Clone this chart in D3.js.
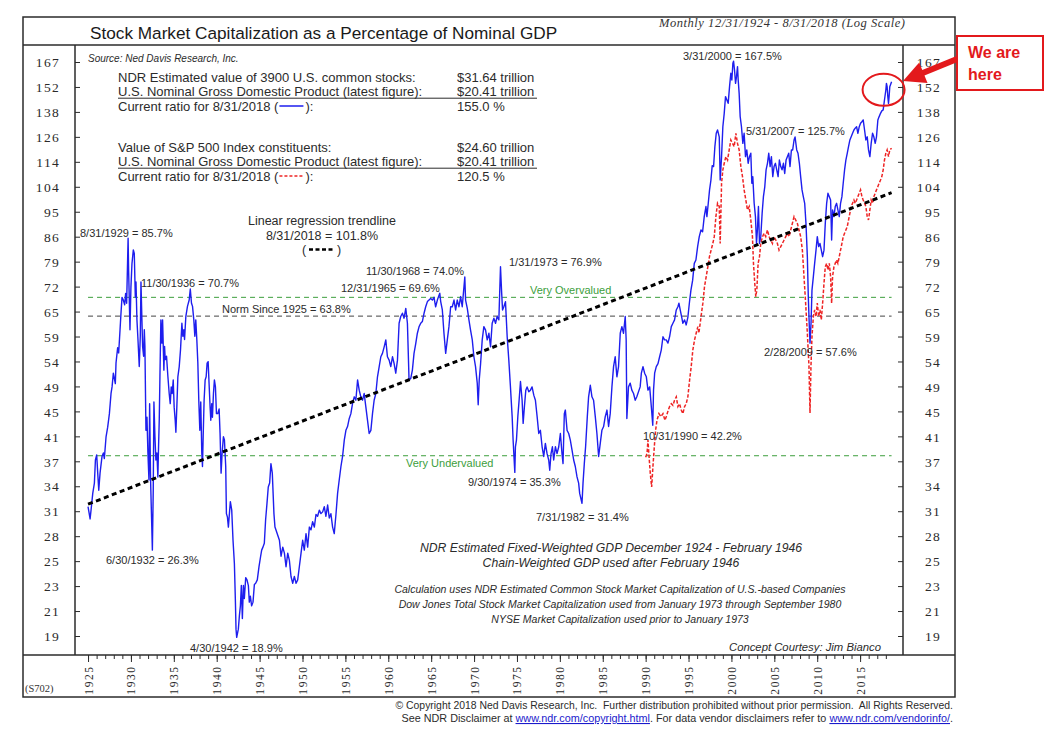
<!DOCTYPE html>
<html><head><meta charset="utf-8">
<script src="https://cdn.jsdelivr.net/npm/d3@7"></script>
<style>body{margin:0;background:#fff}svg{display:block}</style>
</head><body>
<svg id="c" width="1049" height="733"></svg>
<script>
// ---------------- DATA ----------------
const yTickLabels = [19,21,23,25,28,31,34,37,41,45,49,54,59,65,72,79,86,95,104,114,126,138,152,167];
const majorYears = [1925,1930,1935,1940,1945,1950,1955,1960,1965,1970,1975,1980,1985,1990,1995,2000,2005,2010,2015];
const minorYears = d3.range(1925, 2019);
const refLevels = [68.5, 63.8, 37.6]; // very overvalued, norm since 1925, very undervalued
const trendEnds = [[1925.0, 31.3], [2018.67, 101.8]];

const blue1925_1946 = [[1925.0,31.0],[1925.24,29.6],[1925.35,30.6],[1925.55,32.6],[1925.74,33.9],[1925.86,37.0],[1926.01,37.7],[1926.13,35.2],[1926.25,33.0],[1926.4,35.2],[1926.63,37.5],[1926.79,38.0],[1926.9,37.2],[1927.1,40.4],[1927.29,41.9],[1927.49,44.1],[1927.68,47.6],[1927.8,48.8],[1927.95,51.4],[1928.18,49.4],[1928.26,53.4],[1928.45,56.6],[1928.57,55.5],[1928.73,60.6],[1928.84,64.5],[1928.96,68.5],[1929.11,67.8],[1929.27,66.6],[1929.38,69.5],[1929.5,67.0],[1929.67,85.7],[1929.73,75.9],[1929.89,60.6],[1930.0,71.2],[1930.12,77.8],[1930.28,82.0],[1930.39,80.9],[1930.51,68.6],[1930.59,72.6],[1930.7,62.9],[1930.82,58.4],[1930.97,52.7],[1931.09,59.1],[1931.17,72.6],[1931.28,62.9],[1931.36,56.9],[1931.48,54.8],[1931.56,60.6],[1931.63,56.9],[1931.75,41.4],[1931.87,43.5],[1931.98,38.0],[1932.1,34.3],[1932.18,45.8],[1932.29,34.3],[1932.41,29.5],[1932.5,26.3],[1932.6,33.0],[1932.68,46.1],[1932.8,40.4],[1932.91,37.0],[1933.03,38.0],[1933.14,34.7],[1933.22,38.9],[1933.3,43.0],[1933.38,50.7],[1933.49,62.9],[1933.61,57.6],[1933.69,62.9],[1933.77,56.9],[1933.84,52.0],[1933.92,56.9],[1934.0,54.1],[1934.15,54.8],[1934.31,50.7],[1934.46,47.6],[1934.58,45.8],[1934.7,48.8],[1934.81,47.6],[1934.93,50.1],[1935.04,45.2],[1935.16,43.0],[1935.24,41.1],[1935.35,45.2],[1935.47,50.7],[1935.63,52.7],[1935.78,56.2],[1935.94,62.1],[1936.05,59.1],[1936.17,60.6],[1936.25,58.4],[1936.4,63.7],[1936.59,66.2],[1936.79,67.8],[1936.92,70.7],[1937.06,67.0],[1937.18,66.2],[1937.33,62.9],[1937.45,59.1],[1937.56,62.9],[1937.68,58.4],[1937.8,53.4],[1937.91,46.4],[1938.03,41.4],[1938.14,46.1],[1938.26,38.0],[1938.34,36.1],[1938.42,40.4],[1938.53,46.4],[1938.65,50.1],[1938.77,50.7],[1938.88,53.4],[1939.0,53.7],[1939.11,49.4],[1939.23,45.2],[1939.31,43.0],[1939.42,45.8],[1939.5,43.5],[1939.62,47.6],[1939.73,50.1],[1939.85,48.8],[1939.97,44.1],[1940.12,44.1],[1940.28,44.9],[1940.39,40.9],[1940.51,35.2],[1940.63,38.0],[1940.78,40.4],[1940.9,39.9],[1941.05,36.1],[1941.13,30.2],[1941.25,29.8],[1941.36,28.7],[1941.48,30.2],[1941.59,31.6],[1941.75,30.6],[1941.9,27.3],[1942.06,25.0],[1942.18,21.6],[1942.25,19.5],[1942.33,18.9],[1942.52,19.5],[1942.64,20.5],[1942.76,21.3],[1942.87,23.0],[1942.99,20.3],[1943.11,23.0],[1943.22,21.9],[1943.38,23.7],[1943.53,23.5],[1943.69,23.0],[1943.8,21.6],[1943.92,22.1],[1944.07,21.3],[1944.23,21.6],[1944.39,23.1],[1944.54,23.2],[1944.73,23.5],[1944.93,24.7],[1945.12,25.7],[1945.24,26.3],[1945.39,26.6],[1945.55,27.0],[1945.7,29.5],[1945.86,31.4],[1946.01,33.4],[1946.17,33.9],[1946.32,36.5],[1946.48,35.2],[1946.67,30.2],[1946.79,28.7]];

const blue1947_1989 = [[1947.31,27.3],[1947.5,25.7],[1947.7,26.6],[1947.89,26.0],[1948.08,24.7],[1948.28,26.0],[1948.47,25.3],[1948.66,23.8],[1948.86,23.2],[1949.05,23.8],[1949.25,23.2],[1949.44,23.5],[1949.63,24.7],[1949.83,26.0],[1950.02,27.3],[1950.21,26.3],[1950.41,28.0],[1950.6,26.6],[1950.8,28.7],[1950.99,28.4],[1951.18,29.3],[1951.38,28.7],[1951.57,30.1],[1951.76,29.9],[1951.96,30.6],[1952.15,30.2],[1952.35,30.4],[1952.54,31.0],[1952.73,29.9],[1952.93,31.2],[1953.12,29.7],[1953.31,30.2],[1953.51,28.7],[1953.7,28.0],[1953.9,30.1],[1954.09,32.6],[1954.28,34.3],[1954.48,36.1],[1954.67,37.5],[1954.87,39.9],[1955.06,41.4],[1955.25,42.0],[1955.45,43.3],[1955.64,44.1],[1955.83,45.8],[1956.03,47.0],[1956.22,46.4],[1956.42,50.1],[1956.61,48.2],[1956.8,47.0],[1957.0,46.4],[1957.19,47.6],[1957.38,45.3],[1957.58,43.0],[1957.77,40.9],[1957.97,41.4],[1958.16,44.1],[1958.35,46.4],[1958.55,47.6],[1958.74,50.7],[1958.94,52.7],[1959.13,54.7],[1959.32,55.4],[1959.52,56.8],[1959.71,58.3],[1959.9,54.7],[1960.1,54.0],[1960.29,52.7],[1960.49,54.7],[1960.68,53.3],[1960.87,51.4],[1961.07,54.0],[1961.26,62.1],[1961.45,63.7],[1961.65,64.5],[1961.84,63.3],[1962.04,65.7],[1962.23,62.1],[1962.42,50.1],[1962.62,50.4],[1962.81,52.0],[1963.0,55.4],[1963.2,57.5],[1963.39,59.8],[1963.59,61.3],[1963.78,62.1],[1963.97,62.5],[1964.17,64.5],[1964.36,66.1],[1964.56,67.4],[1964.75,67.8],[1964.94,68.2],[1965.14,67.8],[1965.33,68.5],[1965.52,66.1],[1965.72,67.8],[1966.0,69.6],[1966.11,67.4],[1966.3,65.3],[1966.49,59.8],[1966.69,55.4],[1966.88,58.3],[1967.07,61.3],[1967.27,66.1],[1967.46,66.1],[1967.66,67.8],[1967.85,65.3],[1968.04,67.8],[1968.24,66.1],[1968.43,68.7],[1968.62,66.1],[1968.92,74.0],[1969.01,67.8],[1969.21,65.7],[1969.4,62.9],[1969.59,60.5],[1969.79,58.3],[1969.98,54.7],[1970.17,52.7],[1970.37,49.5],[1970.48,45.6],[1970.6,50.1],[1970.76,53.3],[1970.95,58.3],[1971.14,61.3],[1971.34,60.5],[1971.53,58.3],[1971.73,59.8],[1971.92,56.8],[1972.11,62.1],[1972.31,63.3],[1972.5,62.1],[1972.69,63.7],[1972.89,62.9],[1973.08,76.9],[1973.2,70.4],[1973.32,65.3],[1973.47,66.1],[1973.66,67.4],[1973.86,59.0],[1974.05,54.0],[1974.24,48.8],[1974.44,43.6],[1974.55,39.9],[1974.75,35.3],[1974.82,38.9],[1974.94,39.9],[1975.1,43.6],[1975.25,46.4],[1975.41,49.8],[1975.6,46.4],[1975.72,42.5],[1975.87,45.3],[1976.03,48.2],[1976.18,48.8],[1976.38,47.9],[1976.57,48.2],[1976.76,48.8],[1976.96,47.3],[1977.15,46.4],[1977.35,43.6],[1977.54,40.9],[1977.73,41.4],[1977.93,38.9],[1978.12,37.5],[1978.31,39.4],[1978.51,37.9],[1978.7,37.0],[1978.82,35.6],[1978.97,37.9],[1979.13,38.9],[1979.28,37.0],[1979.48,38.9],[1979.67,37.9],[1979.87,38.9],[1980.06,40.9],[1980.25,37.9],[1980.37,36.5],[1980.52,44.1],[1980.64,44.7],[1980.84,41.4],[1981.03,40.9],[1981.22,39.9],[1981.42,38.4],[1981.61,37.0],[1981.8,36.1],[1982.0,34.7],[1982.19,33.9],[1982.31,32.6],[1982.58,31.4],[1982.7,33.9],[1982.85,36.5],[1983.0,38.9],[1983.2,43.6],[1983.35,47.0],[1983.55,49.1],[1983.74,47.0],[1983.93,46.4],[1984.13,43.6],[1984.32,40.9],[1984.52,37.5],[1984.71,39.4],[1984.9,41.4],[1985.1,42.0],[1985.29,43.6],[1985.49,44.7],[1985.68,42.0],[1985.87,44.1],[1986.07,48.8],[1986.26,52.7],[1986.45,54.7],[1986.65,50.7],[1986.84,52.7],[1987.04,59.8],[1987.23,61.3],[1987.42,59.8],[1987.62,63.7],[1987.73,58.3],[1987.81,43.3],[1988.0,48.8],[1988.2,49.5],[1988.39,48.2],[1988.59,47.6],[1988.78,46.4],[1988.97,47.0],[1989.36,48.8]];

const blue1989_1995 = [[1989.5,51.4],[1989.69,52.7],[1989.88,51.4],[1990.08,50.7],[1990.27,48.2],[1990.47,48.8],[1990.66,45.3],[1990.83,42.2],[1990.92,48.2],[1991.05,51.4],[1991.24,52.7],[1991.44,53.3],[1991.63,54.7],[1991.82,56.1],[1992.02,59.0],[1992.21,58.3],[1992.4,58.3],[1992.6,57.6],[1992.79,59.0],[1992.99,61.3],[1993.18,62.1],[1993.37,62.9],[1993.57,65.3],[1993.76,66.1],[1993.88,67.0],[1994.03,65.3],[1994.19,63.7],[1994.34,62.1],[1994.54,62.9],[1994.73,61.7],[1994.92,63.5],[1995.12,67.5]];

const blue1995_2018 = [[1995.28,70.4],[1995.48,73.1],[1995.67,77.9],[1995.86,78.9],[1996.06,83.0],[1996.25,86.2],[1996.45,88.4],[1996.64,87.8],[1996.83,93.0],[1997.03,96.6],[1997.14,93.0],[1997.3,97.8],[1997.45,102.9],[1997.61,106.8],[1997.76,112.8],[1997.92,112.4],[1998.07,121.2],[1998.23,127.5],[1998.38,129.1],[1998.58,125.8],[1998.69,106.8],[1998.85,116.7],[1999.0,130.7],[1999.16,137.5],[1999.31,146.5],[1999.47,144.6],[1999.62,142.8],[1999.78,152.1],[1999.93,160.0],[2000.05,156.0],[2000.17,166.2],[2000.25,167.5],[2000.36,162.0],[2000.48,154.0],[2000.59,158.0],[2000.71,164.1],[2000.79,156.0],[2000.9,148.3],[2001.02,135.8],[2001.17,130.7],[2001.33,122.7],[2001.48,127.5],[2001.64,116.7],[2001.79,119.7],[2001.95,113.8],[2002.1,116.7],[2002.26,118.2],[2002.38,105.5],[2002.49,108.2],[2002.65,97.8],[2002.8,93.0],[2002.92,84.0],[2003.03,88.4],[2003.15,96.6],[2003.27,84.0],[2003.42,86.2],[2003.58,94.2],[2003.73,100.3],[2003.89,104.2],[2004.04,111.0],[2004.2,113.8],[2004.35,118.2],[2004.51,112.4],[2004.66,116.7],[2004.82,108.2],[2004.97,112.4],[2005.13,113.8],[2005.28,111.0],[2005.44,108.2],[2005.59,115.2],[2005.75,112.4],[2005.9,111.0],[2006.06,113.8],[2006.21,109.5],[2006.37,115.2],[2006.52,116.7],[2006.68,118.2],[2006.83,112.4],[2006.99,119.7],[2007.14,119.7],[2007.3,124.3],[2007.42,125.7],[2007.61,119.7],[2007.76,118.2],[2007.92,113.8],[2008.07,108.2],[2008.23,102.9],[2008.38,100.3],[2008.54,97.8],[2008.69,90.6],[2008.85,79.9],[2008.96,68.7],[2009.08,61.3],[2009.16,57.6],[2009.28,62.1],[2009.39,70.4],[2009.55,74.1],[2009.7,77.9],[2009.86,81.9],[2010.01,86.2],[2010.17,83.0],[2010.32,84.0],[2010.48,81.9],[2010.63,79.9],[2010.79,81.9],[2010.94,90.6],[2011.1,97.8],[2011.25,101.6],[2011.41,100.3],[2011.56,99.0],[2011.68,85.1],[2011.79,95.4],[2011.95,93.0],[2012.1,96.6],[2012.26,97.8],[2012.41,95.4],[2012.57,93.0],[2012.72,97.8],[2012.88,100.3],[2013.03,105.5],[2013.19,111.0],[2013.34,115.2],[2013.5,118.2],[2013.65,121.2],[2013.81,124.3],[2013.96,125.8],[2014.12,127.5],[2014.28,129.1],[2014.43,130.0],[2014.59,130.7],[2014.74,127.5],[2014.9,130.7],[2015.05,132.4],[2015.21,133.2],[2015.36,134.1],[2015.52,129.1],[2015.67,124.3],[2015.83,125.8],[2015.98,119.7],[2016.14,116.7],[2016.29,122.7],[2016.45,127.5],[2016.6,125.8],[2016.76,122.7],[2016.91,125.8],[2017.07,134.1],[2017.22,135.8],[2017.38,137.5],[2017.53,138.8],[2017.69,139.3],[2017.84,144.6],[2018.0,150.2],[2018.07,154.0],[2018.15,152.1],[2018.23,146.5],[2018.31,142.8],[2018.38,146.5],[2018.46,152.1],[2018.67,155.0]];

const redSP500 = [[1990.0,37.4],[1990.16,37.9],[1990.27,39.9],[1990.39,37.6],[1990.54,35.2],[1990.7,33.4],[1990.85,36.1],[1991.01,38.9],[1991.16,41.4],[1991.32,43.0],[1991.55,44.1],[1991.78,43.6],[1992.02,44.1],[1992.25,43.0],[1992.4,43.6],[1992.64,44.7],[1992.79,45.3],[1992.99,45.8],[1993.18,45.5],[1993.37,46.4],[1993.57,47.0],[1993.76,45.3],[1993.95,45.8],[1994.15,44.7],[1994.34,44.1],[1994.54,45.3],[1994.73,45.8],[1994.92,47.0],[1995.12,50.0],[1995.31,52.7],[1995.5,56.1],[1995.7,58.3],[1995.89,59.8],[1996.09,61.3],[1996.2,59.8],[1996.36,62.1],[1996.51,64.5],[1996.67,67.0],[1996.86,71.3],[1997.06,74.1],[1997.25,76.9],[1997.44,79.9],[1997.64,82.0],[1997.83,84.0],[1998.0,86.2],[1998.19,93.0],[1998.38,97.8],[1998.58,96.6],[1998.69,84.0],[1998.85,105.5],[1999.0,111.0],[1999.16,113.8],[1999.35,116.7],[1999.55,115.2],[1999.74,119.7],[1999.93,124.3],[2000.13,122.7],[2000.32,121.2],[2000.52,127.5],[2000.71,122.7],[2000.9,119.7],[2001.1,112.4],[2001.29,108.2],[2001.48,102.9],[2001.68,99.0],[2001.87,95.4],[2002.07,96.6],[2002.26,91.8],[2002.45,86.2],[2002.57,77.9],[2002.72,72.2],[2002.84,68.7],[2002.96,70.4],[2003.11,77.9],[2003.27,79.9],[2003.42,84.0],[2003.62,86.2],[2003.81,87.3],[2004.0,86.2],[2004.2,88.4],[2004.39,86.2],[2004.59,85.1],[2004.78,84.0],[2004.97,86.2],[2005.17,85.1],[2005.36,84.0],[2005.55,81.9],[2005.75,83.0],[2005.94,84.0],[2006.14,85.1],[2006.33,86.2],[2006.52,87.3],[2006.72,86.2],[2006.91,88.4],[2007.1,90.6],[2007.3,93.0],[2007.49,91.8],[2007.69,90.6],[2007.88,88.4],[2008.07,86.2],[2008.27,81.9],[2008.46,74.1],[2008.65,67.0],[2008.85,59.8],[2009.04,52.7],[2009.16,44.2],[2009.27,52.7],[2009.39,59.0],[2009.55,63.7],[2009.7,65.3],[2009.86,63.7],[2010.01,67.0],[2010.17,63.7],[2010.32,65.3],[2010.48,62.9],[2010.63,67.0],[2010.79,72.2],[2010.94,76.9],[2011.1,77.9],[2011.25,76.0],[2011.41,77.9],[2011.56,74.1],[2011.68,67.0],[2011.79,74.1],[2011.95,76.9],[2012.1,77.9],[2012.26,78.9],[2012.41,77.9],[2012.57,79.9],[2012.72,81.9],[2012.88,84.0],[2013.03,86.2],[2013.19,87.3],[2013.34,88.4],[2013.5,89.5],[2013.65,91.8],[2013.81,94.2],[2013.96,96.6],[2014.12,97.8],[2014.28,99.0],[2014.43,97.8],[2014.59,99.0],[2014.74,100.3],[2014.9,101.6],[2015.05,102.9],[2015.21,100.3],[2015.36,99.0],[2015.52,97.8],[2015.67,96.6],[2015.83,93.0],[2015.98,91.8],[2016.14,95.4],[2016.29,99.0],[2016.45,97.8],[2016.6,100.3],[2016.76,101.6],[2016.91,102.9],[2017.07,104.2],[2017.22,105.5],[2017.38,106.8],[2017.53,108.2],[2017.69,111.0],[2017.84,115.2],[2018.0,118.2],[2018.15,119.7],[2018.31,116.7],[2018.46,119.7],[2018.67,120.5]];

const infoLabels1 = ["NDR Estimated value of 3900 U.S. common stocks:", "U.S. Nominal Gross Domestic Product (latest figure):", "Current ratio for 8/31/2018 ("];
const infoValues1 = ["$31.64 trillion", "$20.41 trillion", "155.0 %"];
const infoLabels2 = ["Value of S&P 500 Index constituents:", "U.S. Nominal Gross Domestic Product (latest figure):", "Current ratio for 8/31/2018 ("];
const infoValues2 = ["$24.60 trillion", "$20.41 trillion", "120.5 %"];

// ---------------- DRAW ----------------
const svg = d3.select("#c");
const SANS = "'Liberation Sans', Arial, sans-serif";
const SERIF = "'Liberation Serif', 'Times New Roman', serif";
const BLUE = "#1e1eee", RED = "#ee2424", GREEN = "#3c9e3c", INK = "#2b2b2b";
const P = {l: 75, r: 903, t: 45, b: 655};

const x = d3.scaleLinear().domain([1923.48, 2020.0]).range([P.l, P.r]);
const y = d3.scaleLog().domain([19, 167]).range([636, 62]);

function T(s, px, py, o = {}) {
  const t = svg.append("text").attr("x", px).attr("y", py).text(s)
    .attr("font-family", o.family || SANS).attr("font-size", o.size || 11)
    .attr("fill", o.fill || INK);
  if (o.anchor) t.attr("text-anchor", o.anchor);
  if (o.italic) t.attr("font-style", "italic");
  if (o.weight) t.attr("font-weight", o.weight);
  if (o.ls) t.attr("letter-spacing", o.ls);
  if (o.len) t.attr("textLength", o.len).attr("lengthAdjust", "spacing");
  return t;
}

// frame
const fr = svg.append("g").attr("fill", "none").attr("stroke", INK).attr("stroke-width", 1.5);
fr.append("rect").attr("x", 23).attr("y", 17).attr("width", 932).attr("height", 680);
fr.append("line").attr("x1", 23).attr("x2", 955).attr("y1", P.t).attr("y2", P.t);
fr.append("line").attr("x1", 23).attr("x2", 955).attr("y1", P.b).attr("y2", P.b);
fr.append("line").attr("x1", P.l).attr("x2", P.l).attr("y1", P.t).attr("y2", P.b);
fr.append("line").attr("x1", P.r).attr("x2", P.r).attr("y1", P.t).attr("y2", P.b);

// y axes (ticks evenly spaced on the log scale, labelled with rounded values)
const n = yTickLabels.length;
const tickPos = yTickLabels.map((d, i) => 19 * Math.pow(167 / 19, i / (n - 1)));
function styleAxis(g) {
  g.select(".domain").remove();
  g.selectAll(".tick line").attr("stroke", INK);
  g.selectAll(".tick text").attr("fill", "#2a2a2a").attr("font-family", SERIF);
}
svg.append("g").attr("transform", `translate(${P.l},0)`)
  .call(d3.axisLeft(y).tickValues(tickPos).tickFormat((d, i) => yTickLabels[i]).tickSize(-5).tickPadding(15).tickSizeOuter(0))
  .call(styleAxis)
  .call(g => g.selectAll(".tick text").attr("font-size", 13.5).attr("letter-spacing", "1.3px").attr("dy", "0.35em"));
svg.append("g").attr("transform", `translate(${P.r},0)`)
  .call(d3.axisRight(y).tickValues(tickPos).tickFormat((d, i) => yTickLabels[i]).tickSize(-5).tickPadding(15).tickSizeOuter(0))
  .call(styleAxis)
  .call(g => g.selectAll(".tick text").attr("font-size", 13.5).attr("letter-spacing", "1.3px").attr("text-anchor", "end").attr("x", 38).attr("dy", "0.35em"));

// x axis
svg.append("g").attr("transform", `translate(0,${P.b})`)
  .call(d3.axisBottom(x).tickValues(minorYears).tickSize(4).tickFormat("").tickSizeOuter(0))
  .call(styleAxis);
svg.append("g").attr("transform", `translate(0,${P.b})`)
  .call(d3.axisBottom(x).tickValues(majorYears).tickSize(7).tickFormat(d3.format("d")).tickSizeOuter(0))
  .call(styleAxis)
  .call(g => g.selectAll(".tick text").attr("font-size", 11.5).attr("letter-spacing", "1.6px")
    .attr("transform", "rotate(-90)").attr("x", -25).attr("y", 0).attr("dy", "0.35em").attr("text-anchor", "middle"));

// reference lines
const refColors = [GREEN, "#444", GREEN];
refLevels.forEach((v, i) => {
  svg.append("line").attr("x1", x(1925)).attr("x2", x(2018.67)).attr("y1", y(v)).attr("y2", y(v))
    .attr("stroke", refColors[i]).attr("stroke-width", 1).attr("stroke-dasharray", "5,4");
});

// series
const line = d3.line().x(d => x(d[0])).y(d => y(d[1]));
const blueAll = blue1925_1946.concat(blue1947_1989, blue1989_1995, blue1995_2018);
svg.append("path").datum(blueAll).attr("d", line).attr("fill", "none").attr("stroke", BLUE).attr("stroke-width", 1.4).attr("stroke-linejoin", "round");
svg.append("path").datum(redSP500).attr("d", line).attr("fill", "none").attr("stroke", RED).attr("stroke-width", 1.5).attr("stroke-dasharray", "3.5,1.8");
svg.append("path").datum(trendEnds).attr("d", line).attr("fill", "none").attr("stroke", "#000").attr("stroke-width", 3).attr("stroke-dasharray", "5,3.5");

// title band
T("Stock Market Capitalization as a Percentage of Nominal GDP", 90, 39, {size: 17.2, fill: "#1a1a1a"});
T("Monthly 12/31/1924 - 8/31/2018 (Log Scale)", 659, 27, {family: SERIF, size: 12.5, italic: true, fill: "#333", len: 246});

// info blocks
T("Source: Ned Davis Research, Inc.", 88, 62, {size: 10, italic: true});
function infoBlock(labels, values, y0, legendColor, dash) {
  labels.forEach((s, i) => {
    const t = T(s, 118, y0 + i * 14.5, {size: 13});
    T(values[i], 457, y0 + i * 14.5, {size: 13});
    if (i === 2) {
      const w = t.node().getComputedTextLength();
      const ly = y0 + i * 14.5 - 4.5;
      svg.append("line").attr("x1", 118 + w + 1).attr("x2", 118 + w + 25).attr("y1", ly).attr("y2", ly)
        .attr("stroke", legendColor).attr("stroke-width", 1.5).attr("stroke-dasharray", dash);
      T("):", 118 + w + 27, y0 + i * 14.5, {size: 13});
    }
  });
  svg.append("line").attr("x1", 118).attr("x2", 537).attr("y1", y0 + 14.5 + 2.2).attr("y2", y0 + 14.5 + 2.2)
    .attr("stroke", INK).attr("stroke-width", 1);
}
infoBlock(infoLabels1, infoValues1, 81.5, BLUE, null);
infoBlock(infoLabels2, infoValues2, 151.5, RED, "3,2");

// trendline legend
T("Linear regression trendline", 322, 225, {size: 12.5, anchor: "middle"});
T("8/31/2018 = 101.8%", 322, 240, {size: 12.5, anchor: "middle"});
T("(", 302, 254, {size: 12.5});
svg.append("line").attr("x1", 309).attr("x2", 335).attr("y1", 249.5).attr("y2", 249.5)
  .attr("stroke", "#000").attr("stroke-width", 2.5).attr("stroke-dasharray", "4,2.5");
T(")", 337, 254, {size: 12.5});

// point annotations
T("8/31/1929 = 85.7%", 80, 237);
T("11/30/1936 = 70.7%", 141, 287);
T("6/30/1932 = 26.3%", 106, 564);
T("4/30/1942 = 18.9%", 190, 652);
T("11/30/1968 = 74.0%", 366, 275);
T("12/31/1965 = 69.6%", 341, 292);
T("Norm Since 1925 = 63.8%", 222, 313);
T("1/31/1973 = 76.9%", 509, 266);
T("Very Overvalued", 530, 293.5, {fill: GREEN});
T("Very Undervalued", 406, 467, {fill: GREEN});
T("9/30/1974 = 35.3%", 468, 486);
T("7/31/1982 = 31.4%", 536, 521);
T("10/31/1990 = 42.2%", 643, 440);
T("3/31/2000 = 167.5%", 683, 60);
T("5/31/2007 = 125.7%", 746, 135);
T("2/28/2009 = 57.6%", 764, 356);

// notes
T("NDR Estimated Fixed-Weighted GDP December 1924 - February 1946", 611, 552, {size: 12.2, italic: true, anchor: "middle"});
T("Chain-Weighted GDP used after February 1946", 611, 567, {size: 12.2, italic: true, anchor: "middle"});
T("Calculation uses NDR Estimated Common Stock Market Capitalization of U.S.-based Companies", 620, 593, {size: 10.5, italic: true, anchor: "middle"});
T("Dow Jones Total Stock Market Capitalization used from January 1973 through September 1980", 620, 608, {size: 10.5, italic: true, anchor: "middle"});
T("NYSE Market Capitalization used prior to January 1973", 620, 623, {size: 10.5, italic: true, anchor: "middle"});
T("Concept Courtesy: Jim Bianco", 729, 651, {size: 11.3, italic: true});

// footer
T("(S702)", 25, 692, {family: SERIF, size: 10.5, fill: "#333"});
T("\u00A9 Copyright 2018 Ned Davis Research, Inc.  Further distribution prohibited without prior permission.  All Rights Reserved.", 953, 709, {size: 10.4, anchor: "end"}).style("white-space", "pre");
const f2 = svg.append("text").attr("x", 953).attr("y", 722).attr("text-anchor", "end")
  .attr("font-family", SANS).attr("font-size", 10.8).attr("fill", INK);
f2.append("tspan").text("See NDR Disclaimer at ");
f2.append("tspan").text("www.ndr.com/copyright.html").attr("fill", "#1a1acc").attr("text-decoration", "underline");
f2.append("tspan").text(". For data vendor disclaimers refer to ");
f2.append("tspan").text("www.ndr.com/vendorinfo/").attr("fill", "#1a1acc").attr("text-decoration", "underline");
f2.append("tspan").text(".");

// "We are here" call-out
const CR = "#e3191c";
svg.append("ellipse").attr("cx", x(2018.67) - 8).attr("cy", y(152) + 3).attr("rx", 21).attr("ry", 16)
  .attr("fill", "none").attr("stroke", CR).attr("stroke-width", 2);
svg.append("rect").attr("x", 957).attr("y", 36).attr("width", 86).attr("height", 54)
  .attr("fill", "#fff").attr("stroke", CR).attr("stroke-width", 2);
T("We are", 968, 58, {size: 16, weight: "bold", fill: CR});
T("here", 968, 80, {size: 16, weight: "bold", fill: CR});
(function arrow() {
  const x0 = 957, y0 = 59, x1 = 903, y1 = 81;
  const dx = x1 - x0, dy = y1 - y0, L = Math.hypot(dx, dy), ux = dx / L, uy = dy / L, nx = -uy, ny = ux;
  const hl = 22, hw = 11, bx = x1 - ux * hl, by = y1 - uy * hl;
  svg.append("line").attr("x1", x0).attr("y1", y0).attr("x2", bx + ux * 2).attr("y2", by + uy * 2)
    .attr("stroke", CR).attr("stroke-width", 6);
  svg.append("polygon").attr("points", `${x1},${y1} ${bx + nx * hw},${by + ny * hw} ${bx - nx * hw},${by - ny * hw}`).attr("fill", CR);
})();
</script>
</body></html>
